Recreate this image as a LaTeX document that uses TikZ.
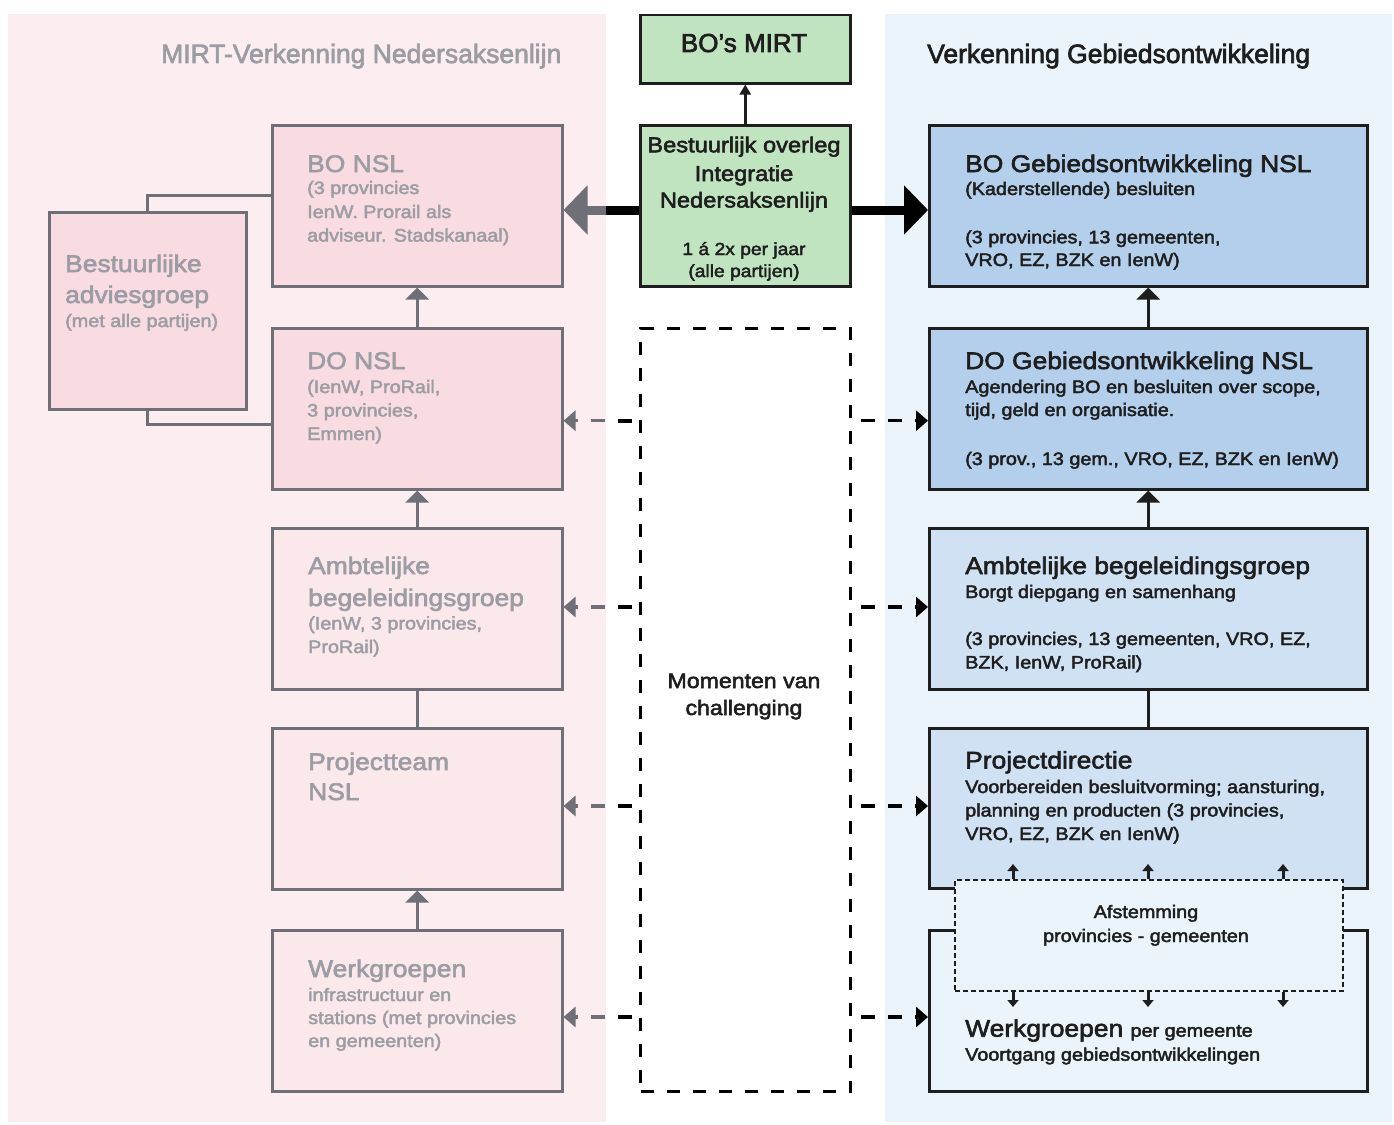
\documentclass[tikz,border=0pt]{standalone}
\usepackage{fontspec}
\setmainfont{Liberation Sans}[FakeStretch=1.1, FakeBold=2.5]
\newfontfamily\hdrfont{Liberation Sans}[FakeBold=2.5]
\usetikzlibrary{arrows.meta}
\definecolor{lpanel}{HTML}{FCEEF0}
\definecolor{lboxA}{HTML}{F9DCE1}
\definecolor{lboxB}{HTML}{FBE8EB}
\definecolor{ltext}{HTML}{9C9CA4}
\definecolor{lline}{HTML}{6F6F77}
\definecolor{rpanel}{HTML}{EBF3FB}
\definecolor{rboxA}{HTML}{B4CFEB}
\definecolor{rboxB}{HTML}{CFE1F3}
\definecolor{grnfill}{HTML}{C0E3C0}
\definecolor{dark}{HTML}{1E1E1E}
\newcommand\Ln[5]{\node[#2, anchor=base west, inner sep=0] (#1) at (#3,#4) {#5};}
\newcommand\Lc[5]{\node[#2, anchor=base, inner sep=0] (#1) at (#3,#4) {#5};}
\begin{document}
\begin{tikzpicture}[x=1pt,y=-1pt,
  bx/.style={rectangle, inner sep=0, anchor=north west, line width=2.5pt},
  lb/.style={bx, draw=lline},
  rb/.style={bx, draw=dark},
  ttl/.style={font=\fontsize{24}{28}\selectfont},
  bdy/.style={font=\fontsize{18}{22}\selectfont},
  hdr/.style={font=\hdrfont\fontsize{26.5}{30}\selectfont},
  lc/.style={text=ltext},
  rc/.style={text=dark},
  upA/.style={-{Triangle[length=12pt,width=23pt]}, line width=3.5pt},
  plainline/.style={line width=3.5pt},
  thkA/.style={-{Triangle[length=24pt,width=48pt]}, line width=9pt},
  dshA/.style={-{Triangle[length=12pt,width=20pt]}, line width=3.5pt, dash pattern=on 14pt off 13pt},
  smA/.style={-{Triangle[length=7pt,width=11pt]}, line width=3pt, draw=dark},
  conn/.style={line width=3pt, draw=lline}
]
\useasboundingbox (0,0) rectangle (1394,1124);
\fill[white] (0,0) rectangle (1394,1124);
\fill[lpanel] (8,14) rectangle (606,1122);
\fill[rpanel] (885,14) rectangle (1392,1122);

% headers
\Ln{hl}{hdr, lc}{161}{63}{MIRT-Verkenning Nedersaksenlijn}
\Ln{hr}{hdr, rc}{927}{63}{Verkenning Gebiedsontwikkeling}

% left boxes
\node[lb, fill=lboxA, minimum width=290pt, minimum height=161pt] (lbo) at (271,124) {};
\node[lb, fill=lboxA, minimum width=290pt, minimum height=161pt] (ldo) at (271,327) {};
\node[lb, fill=lboxB, minimum width=290pt, minimum height=161pt] (lamb) at (271,527) {};
\node[lb, fill=lboxB, minimum width=290pt, minimum height=161pt] (lproj) at (271,727) {};
\node[lb, fill=lboxB, minimum width=290pt, minimum height=161pt] (lwerk) at (271,929) {};
\node[lb, fill=lboxA, minimum width=197pt, minimum height=197pt] (bag) at (48,211) {};

% center boxes
\node[rb, fill=grnfill, minimum width=210pt, minimum height=68pt] (mirt) at (639,14) {};
\node[rb, fill=grnfill, minimum width=210pt, minimum height=161pt] (bov) at (639,124) {};
\node[bx, draw=black, line width=3pt, dash pattern=on 13pt off 13pt, minimum width=210pt, minimum height=763pt] (cdash) at (639,327) {};

% right boxes
\node[rb, fill=rboxA, minimum width=438pt, minimum height=161pt] (rbo) at (928,124) {};
\node[rb, fill=rboxA, minimum width=438pt, minimum height=161pt] (rdo) at (928,327) {};
\node[rb, fill=rboxB, minimum width=438pt, minimum height=161pt] (ramb) at (928,527) {};
\node[rb, fill=rboxB, minimum width=438pt, minimum height=160pt] (rproj) at (928,727) {};
\node[rb, fill=rpanel, minimum width=438pt, minimum height=161pt] (rwerk) at (928,929) {};
\node[bx, fill=rpanel, draw=dark, line width=2pt, dash pattern=on 5pt off 3pt, minimum width=388pt, minimum height=111pt] (afst) at (954,879) {};

% left texts
\Ln{t1}{ttl, lc}{307}{172}{BO NSL}
\Ln{t2}{bdy, lc}{307}{194}{(3 provincies}
\Ln{t3}{bdy, lc}{307}{218}{IenW. Prorail als}
\Ln{t4}{bdy, lc}{307}{241.5}{adviseur. Stadskanaal)}
\Ln{t5}{ttl, lc}{65}{272}{Bestuurlijke}
\Ln{t6}{ttl, lc}{65}{303}{adviesgroep}
\Ln{t7}{bdy, lc}{65}{327}{(met alle partijen)}
\Ln{t8}{ttl, lc}{307}{369}{DO NSL}
\Ln{t9}{bdy, lc}{307}{393}{(IenW, ProRail,}
\Ln{t10}{bdy, lc}{307}{416.5}{3 provincies,}
\Ln{t11}{bdy, lc}{307}{440}{Emmen)}
\Ln{t12}{ttl, lc}{308}{574}{Ambtelijke}
\Ln{t13}{ttl, lc}{308}{606}{begeleidingsgroep}
\Ln{t14}{bdy, lc}{308}{629.5}{(IenW, 3 provincies,}
\Ln{t15}{bdy, lc}{308}{653}{ProRail)}
\Ln{t16}{ttl, lc}{308}{770}{Projectteam}
\Ln{t17}{ttl, lc}{308}{800}{NSL}
\Ln{t18}{ttl, lc}{308}{977}{Werkgroepen}
\Ln{t19}{bdy, lc}{308}{1001}{infrastructuur en}
\Ln{t20}{bdy, lc}{308}{1024}{stations (met provincies}
\Ln{t21}{bdy, lc}{308}{1047}{en gemeenten)}

% center texts
\Lc{c1}{hdr, rc, font=\hdrfont\fontsize{26}{30}\selectfont}{744}{52}{BO’s MIRT}
\Lc{c2}{rc, font=\fontsize{21.5}{26}\selectfont}{744}{152.3}{Bestuurlijk overleg}
\Lc{c3}{rc, font=\fontsize{21.5}{26}\selectfont}{744}{181}{Integratie}
\Lc{c4}{rc, font=\fontsize{21.5}{26}\selectfont}{744}{207.5}{Nedersaksenlijn}
\Lc{c5}{rc, font=\fontsize{17.5}{22}\selectfont}{744}{255}{1 á 2x per jaar}
\Lc{c6}{rc, font=\fontsize{17.5}{22}\selectfont}{744}{277}{(alle partijen)}
\Lc{c7}{rc, font=\fontsize{21}{26}\selectfont}{744}{688}{Momenten van}
\Lc{c8}{rc, font=\fontsize{21}{26}\selectfont}{744}{715}{challenging}

% right texts
\Ln{r1}{ttl, rc}{965}{172}{BO Gebiedsontwikkeling NSL}
\Ln{r2}{bdy, rc}{965}{195}{(Kaderstellende) besluiten}
\Ln{r3}{bdy, rc}{965}{243.3}{(3 provincies, 13 gemeenten,}
\Ln{r4}{bdy, rc}{965}{266}{VRO, EZ, BZK en IenW)}
\Ln{r5}{ttl, rc}{965}{369}{DO Gebiedsontwikkeling NSL}
\Ln{r6}{bdy, rc}{965}{393}{Agendering BO en besluiten over scope,}
\Ln{r7}{bdy, rc}{965}{416}{tijd, geld en organisatie.}
\Ln{r8}{bdy, rc}{965}{465}{(3 prov., 13 gem., VRO, EZ, BZK en IenW)}
\Ln{r9}{ttl, rc}{965}{574}{Ambtelijke begeleidingsgroep}
\Ln{r10}{bdy, rc}{965}{598}{Borgt diepgang en samenhang}
\Ln{r11}{bdy, rc}{965}{645}{(3 provincies, 13 gemeenten, VRO, EZ,}
\Ln{r12}{bdy, rc}{965}{668.5}{BZK, IenW, ProRail)}
\Ln{r13}{ttl, rc}{965}{768.5}{Projectdirectie}
\Ln{r14}{bdy, rc}{965}{793}{Voorbereiden besluitvorming; aansturing,}
\Ln{r15}{bdy, rc}{965}{816.5}{planning en producten (3 provincies,}
\Ln{r16}{bdy, rc}{965}{840}{VRO, EZ, BZK en IenW)}
\Ln{r17}{ttl, rc}{965}{1036.7}{Werkgroepen {\fontsize{18}{22}\selectfont per gemeente}}
\Ln{r18}{bdy, rc}{965}{1060.7}{Voortgang gebiedsontwikkelingen}
\Lc{r19}{bdy, rc}{1146}{918}{Afstemming}
\Lc{r20}{bdy, rc}{1146}{942}{provincies - gemeenten}

% left vertical connectors
\draw[upA, lline] (ldo.north) -- (lbo.south);
\draw[upA, lline] (lamb.north) -- (ldo.south);
\draw[plainline, lline] (lproj.north) -- (lamb.south);
\draw[upA, lline] (lwerk.north) -- (lproj.south);
\draw[conn] ([yshift=-71pt]lbo.north west) -| (bag.north);
\draw[conn] (bag.south) |- ([yshift=-97pt]ldo.north west);

% right vertical connectors
\draw[upA, dark] (rdo.north) -- (rbo.south);
\draw[upA, dark] (ramb.north) -- (rdo.south);
\draw[plainline, dark] (rproj.north) -- (ramb.south);

% BO's MIRT
\draw[-{Triangle[length=10pt,width=11pt]}, line width=2.5pt, dark] (bov.north) -- (mirt.south);

% thick arrows
\coordinate (gL) at ([yshift=-86pt]bov.north west);
\coordinate (gR) at ([yshift=-86pt]bov.north east);
\draw[thkA, lline] (gL) -- (lbo.east |- gL);
\begin{scope}
\clip (606,0) rectangle (640,1124);
\draw[thkA, black] (gL) -- (lbo.east |- gL);
\end{scope}
\draw[thkA, black] (gR) -- (rbo.west |- gR);

% dashed arrows
\coordinate (yA) at (0,420.7);
\coordinate (yB) at (0,607);
\coordinate (yC) at (0,806);
\coordinate (yD) at (0,1017);
\draw[dshA, lline, shorten <=7pt] (cdash.west |- yA) -- (ldo.east |- yA);
\draw[dshA, lline, shorten <=7pt] (cdash.west |- yB) -- (lamb.east |- yB);
\draw[dshA, lline, shorten <=7pt] (cdash.west |- yC) -- (lproj.east |- yC);
\draw[dshA, lline, shorten <=7pt] (cdash.west |- yD) -- (lwerk.east |- yD);
\begin{scope}
\clip (606,0) rectangle (640,1124);
\draw[dshA, black, line width=4pt, shorten <=7pt] (cdash.west |- yA) -- (ldo.east |- yA);
\draw[dshA, black, line width=4pt, shorten <=7pt] (cdash.west |- yB) -- (lamb.east |- yB);
\draw[dshA, black, line width=4pt, shorten <=7pt] (cdash.west |- yC) -- (lproj.east |- yC);
\draw[dshA, black, line width=4pt, shorten <=7pt] (cdash.west |- yD) -- (lwerk.east |- yD);
\end{scope}
\draw[dshA, black, shorten <=9pt] (cdash.east |- yA) -- (rdo.west |- yA);
\draw[dshA, black, shorten <=9pt] (cdash.east |- yB) -- (ramb.west |- yB);
\draw[dshA, black, shorten <=9pt] (cdash.east |- yC) -- (rproj.west |- yC);
\draw[dshA, black, shorten <=9pt] (cdash.east |- yD) -- (rwerk.west |- yD);

% small arrows around Afstemming
\foreach \xx/\nm in {1013/a,1148/b,1283/c}{
  \coordinate (up\nm) at (\xx,864);
  \coordinate (dn\nm) at (\xx,1007);
  \draw[smA] (afst.north -| up\nm) -- (up\nm);
  \draw[smA] (afst.south -| dn\nm) -- (dn\nm);
}
\end{tikzpicture}
\end{document}
